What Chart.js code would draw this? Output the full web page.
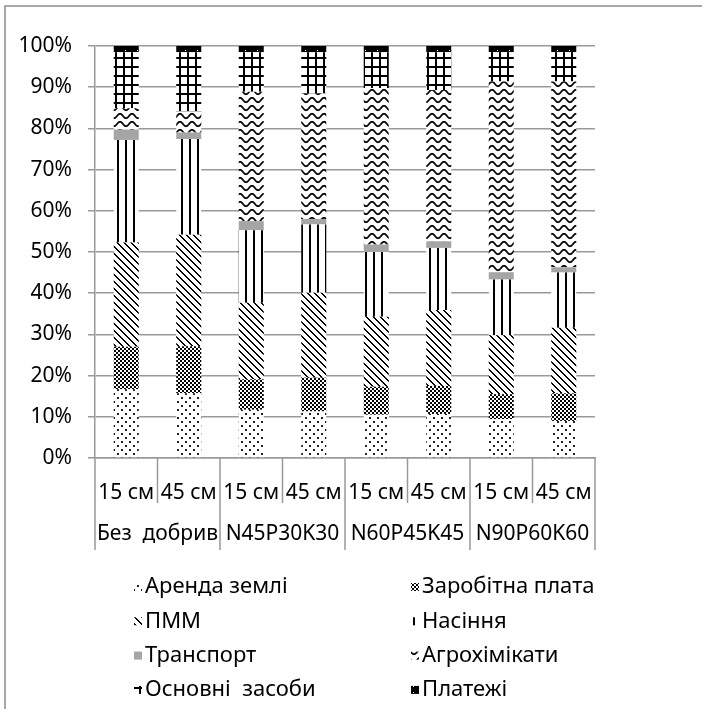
<!DOCTYPE html>
<html>
<head>
<meta charset="utf-8">
<script src="https://cdn.jsdelivr.net/npm/chart.js@4.4.1/dist/chart.umd.min.js"></script>
<style>
  html, body { margin: 0; padding: 0; background: #fff; }
  #wrap { position: relative; width: 702px; height: 709px; }
</style>
</head>
<body>
<div id="wrap"><canvas id="c" width="702" height="709"></canvas></div>
<script>
// Categories: row spacing within each fertiliser treatment
const depths = ['15 см', '45 см', '15 см', '45 см', '15 см', '45 см', '15 см', '45 см'];
const groups = ['Без  добрив', 'N45P30K30', 'N60P45K45', 'N90P60K60'];

// Cost structure, % of total
const rent        = [16.7, 15.7, 11.7, 11.3, 10.5, 10.7,  9.4,  9.0];
const wages       = [10.3, 11.4,  7.4,  8.2,  6.8,  6.8,  6.1,  6.7];
const fuel        = [25.3, 27.1, 18.6, 20.6, 17.0, 18.4, 14.3, 15.9];
const seeds       = [24.9, 23.2, 17.6, 16.6, 15.7, 15.1, 13.5, 13.4];
const transport   = [ 2.5,  1.6,  2.2,  1.3,  1.8,  1.6,  1.8,  1.3];
const agrochem    = [ 5.2,  5.1, 31.4, 30.5, 38.0, 36.7, 46.3, 45.1];
const fixedAssets = [13.6, 14.4,  9.6, 10.0,  8.7,  9.2,  7.1,  7.1];
const payments    = [ 1.5,  1.5,  1.5,  1.5,  1.5,  1.5,  1.5,  1.5];

const seriesNames = ['Аренда землі', 'Заробітна плата', 'ПММ', 'Насіння',
                     'Транспорт', 'Агрохімікати', 'Основні  засоби', 'Платежі'];

const FONT = '"Noto Sans", "DejaVu Sans", sans-serif';
const AXIS_SIZE = 21;
const LEGEND_SIZE = 22;

// ---- monochrome fill patterns ----
function tile(w, h, draw, bg) {
  const c = document.createElement('canvas');
  c.width = w; c.height = h;
  const g = c.getContext('2d');
  g.fillStyle = bg || '#fff';
  g.fillRect(0, 0, w, h);
  g.fillStyle = '#000';
  g.strokeStyle = '#000';
  draw(g, w, h);
  return g.createPattern(c, 'repeat');
}

const patDots = tile(8, 8, g => {
  g.fillStyle = '#222';
  g.fillRect(1, 1, 2, 2);
  g.fillRect(5, 5, 2, 2);
});
const patChecker = tile(4, 4, g => {
  g.fillRect(0, 0, 2, 2);
  g.fillRect(2, 2, 2, 2);
});
const patDiag = tile(7, 7, (g, w) => {
  for (let i = 0; i < w; i++) {
    for (let k = 0; k < 2; k++) g.fillRect((i + k) % w, i, 1, 1);
  }
});
const patVert = tile(8, 4, g => {
  g.fillRect(5, 0, 2, 4);
});
const patWave = tile(12, 8, g => {
  g.lineWidth = 1.7;
  g.beginPath();
  for (let x = -1; x <= 13; x += 0.5) {
    const y = 4 - 2.2 * Math.cos(2 * Math.PI * x / 12);
    if (x === -1) g.moveTo(x, y); else g.lineTo(x, y);
  }
  g.stroke();
});
const patGrid = tile(8, 9, g => {
  g.fillRect(3, 0, 2, 9);
  g.fillRect(0, 3, 8, 2);
});
const patPay = tile(12, 6, g => {
  g.fillStyle = '#ddd';
  g.fillRect(5, 2, 1, 1);
}, '#000');

const fills = [patDots, patChecker, patDiag, patVert, '#a5a5a5', patWave, patGrid, patPay];
const values = [rent, wages, fuel, seeds, transport, agrochem, fixedAssets, payments];

const datasets = values.map((v, i) => ({
  label: seriesNames[i],
  data: v,
  backgroundColor: fills[i],
  borderWidth: 0,
  categoryPercentage: 1.0,
  barPercentage: 0.4
}));

// Treatment labels, category separators, frame and two-column legend
const decor = {
  id: 'decor',
  beforeDraw(chart) {
    const { ctx, width, height } = chart;
    ctx.save();
    ctx.fillStyle = '#fff';
    ctx.fillRect(0, 0, width, height);
    ctx.restore();
  },
  afterDraw(chart) {
    const { ctx, chartArea: a } = chart;
    const x = chart.scales.x;
    ctx.save();

    // outer frame
    ctx.strokeStyle = '#8c8c8c';
    ctx.lineWidth = 1.5;
    ctx.beginPath();
    ctx.moveTo(5, chart.height);
    ctx.lineTo(5, 6);
    ctx.lineTo(chart.width, 6);
    ctx.stroke();

    // separators under the category axis
    const n = depths.length;
    ctx.strokeStyle = '#999';
    ctx.lineWidth = 1.5;
    for (let i = 0; i <= n; i++) {
      const px = i === 0 ? a.left : i === n ? a.right
        : (x.getPixelForValue(i - 1) + x.getPixelForValue(i)) / 2;
      const len = i % 2 === 0 ? 92 : 45;
      ctx.beginPath();
      ctx.moveTo(px, a.bottom);
      ctx.lineTo(px, a.bottom + len);
      ctx.stroke();
    }

    // treatment labels
    ctx.font = AXIS_SIZE + 'px ' + FONT;
    ctx.fillStyle = '#000';
    ctx.textAlign = 'center';
    ctx.textBaseline = 'middle';
    groups.forEach((g, k) => {
      const cx = (x.getPixelForValue(2 * k) + x.getPixelForValue(2 * k + 1)) / 2;
      ctx.fillText(g, cx, a.bottom + 76);
    });

    // legend
    ctx.font = LEGEND_SIZE + 'px ' + FONT;
    ctx.textAlign = 'left';
    chart.data.datasets.forEach((ds, i) => {
      const col = i % 2, row = Math.floor(i / 2);
      const mx = col ? 411 : 134;
      const my = 587 + row * 34.3;
      ctx.fillStyle = ds.backgroundColor;
      ctx.fillRect(mx, my - 4, 8, 8);
      ctx.fillStyle = '#000';
      ctx.fillText(ds.label, mx + 11, my);
    });
    ctx.restore();
  }
};

new Chart(document.getElementById('c'), {
  type: 'bar',
  data: { labels: depths, datasets },
  plugins: [decor],
  options: {
    responsive: false,
    animation: false,
    devicePixelRatio: 1,
    layout: { padding: { top: 46, right: 107, left: 0, bottom: 0 } },
    plugins: { legend: { display: false }, tooltip: { enabled: false } },
    scales: {
      x: {
        stacked: true,
        grid: { display: false },
        border: { display: true, color: '#999', width: 1.5 },
        ticks: { font: { family: FONT, size: AXIS_SIZE }, color: '#000', padding: 14,
                 maxRotation: 0, autoSkip: false },
        afterFit(s) { s.height = 251; }
      },
      y: {
        stacked: true,
        min: 0, max: 100,
        ticks: { stepSize: 10, callback: v => v + '%', font: { family: FONT, size: AXIS_SIZE },
                 color: '#000', padding: 16 },
        grid: { color: '#999', lineWidth: 1.5, tickLength: 7 },
        border: { color: '#999', width: 1.5 },
        afterFit(s) { s.width = 95; }
      }
    }
  }
});
</script>
</body>
</html>
